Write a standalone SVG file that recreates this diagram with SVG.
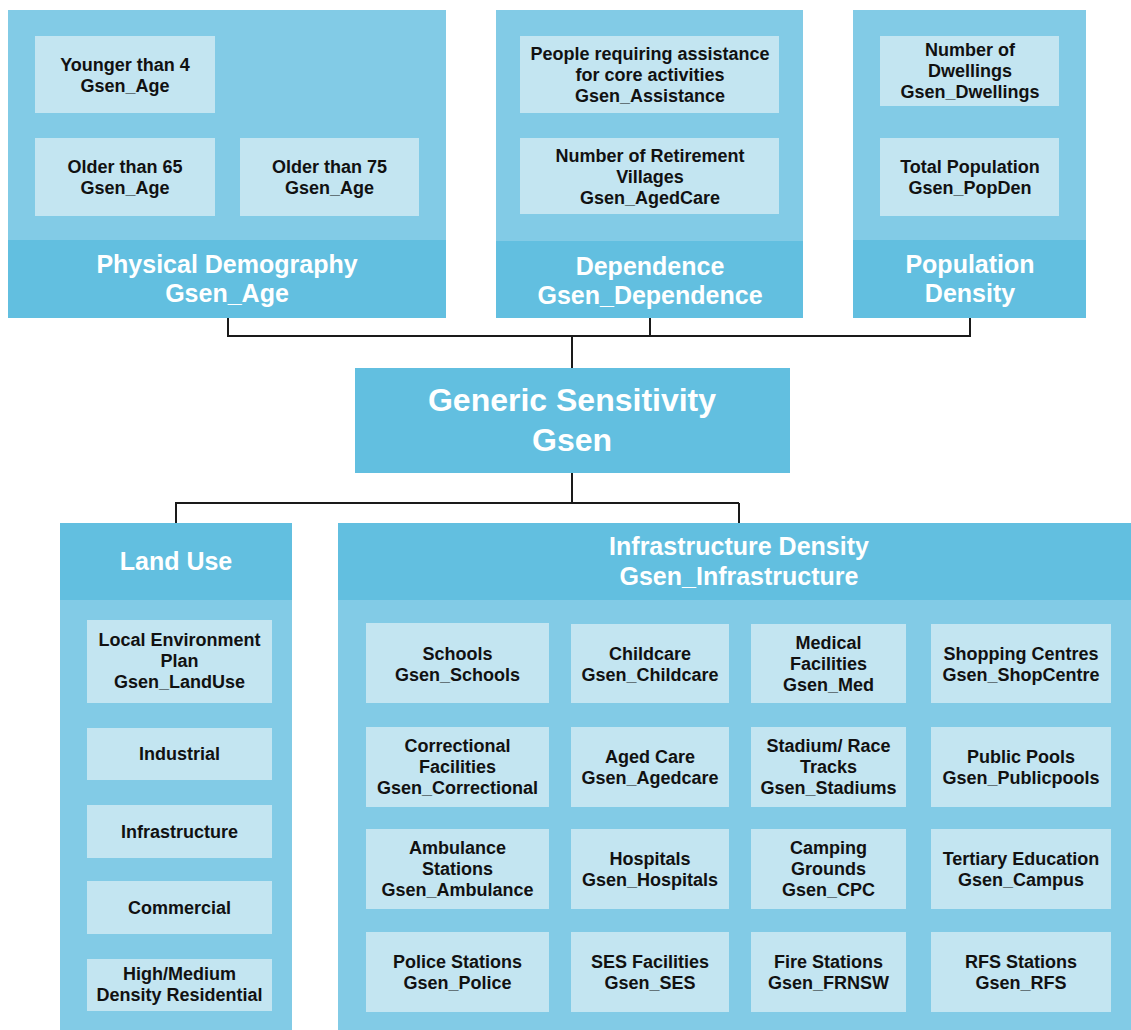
<svg xmlns="http://www.w3.org/2000/svg" width="1131" height="1030" viewBox="0 0 1131 1030">
<style>
.panel{fill:#82CBE6}
.head{fill:#62BFE0}
.inner{fill:#C3E5F1}
text{font-family:"Liberation Sans",Arial,sans-serif;font-weight:bold;text-anchor:middle}
.ht{fill:#ffffff;font-size:25px}
.it{fill:#111111;font-size:18px}
.big{fill:#ffffff;font-size:32px}
.conn{fill:none;stroke:#1a1a1a;stroke-width:2}
</style>
<rect width="1131" height="1030" fill="#ffffff"/>

<g id="physical-demography">
<rect class="panel" x="8" y="10" width="438" height="308"/>
<rect class="head" x="8" y="240" width="438" height="78"/>
<text class="ht" x="227" y="273">Physical Demography</text>
<text class="ht" x="227" y="302">Gsen_Age</text>
</g>
<g id="younger-than-4">
<rect class="inner" x="35" y="36" width="180" height="77"/>
<text class="it" x="125" y="71">Younger than 4</text>
<text class="it" x="125" y="92">Gsen_Age</text>
</g>
<g id="older-than-65">
<rect class="inner" x="35" y="138" width="180" height="78"/>
<text class="it" x="125" y="173">Older than 65</text>
<text class="it" x="125" y="194">Gsen_Age</text>
</g>
<g id="older-than-75">
<rect class="inner" x="240" y="138" width="179" height="78"/>
<text class="it" x="329.5" y="173">Older than 75</text>
<text class="it" x="329.5" y="194">Gsen_Age</text>
</g>

<g id="dependence">
<rect class="panel" x="496" y="10" width="307" height="308"/>
<rect class="head" x="496" y="241" width="307" height="77"/>
<text class="ht" x="650" y="275">Dependence</text>
<text class="ht" x="650" y="304">Gsen_Dependence</text>
</g>
<g id="assistance">
<rect class="inner" x="520" y="36" width="259" height="77"/>
<text class="it" x="650" y="60">People requiring assistance</text>
<text class="it" x="650" y="81">for core activities</text>
<text class="it" x="650" y="102">Gsen_Assistance</text>
</g>
<g id="retirement-villages">
<rect class="inner" x="520" y="138" width="259" height="76"/>
<text class="it" x="650" y="162">Number of Retirement</text>
<text class="it" x="650" y="183">Villages</text>
<text class="it" x="650" y="204">Gsen_AgedCare</text>
</g>

<g id="population-density">
<rect class="panel" x="853" y="10" width="233" height="308"/>
<rect class="head" x="853" y="240" width="233" height="78"/>
<text class="ht" x="970" y="273">Population</text>
<text class="ht" x="970" y="302">Density</text>
</g>
<g id="dwellings">
<rect class="inner" x="880" y="36" width="179" height="70"/>
<text class="it" x="970" y="56">Number of</text>
<text class="it" x="970" y="77">Dwellings</text>
<text class="it" x="970" y="98">Gsen_Dwellings</text>
</g>
<g id="total-population">
<rect class="inner" x="880" y="138" width="179" height="78"/>
<text class="it" x="970" y="173">Total Population</text>
<text class="it" x="970" y="194">Gsen_PopDen</text>
</g>

<g id="connectors">
<path class="conn" d="M228 318V336H970V318M650 318V336M572 336V368"/>
<path class="conn" d="M572 473V503H176V523M739 503V523M572 503H739"/>
</g>

<g id="generic-sensitivity">
<rect class="head" x="355" y="368" width="435" height="105"/>
<text class="big" x="572" y="411">Generic Sensitivity</text>
<text class="big" x="572" y="451">Gsen</text>
</g>

<g id="land-use">
<rect class="panel" x="60" y="523" width="232" height="507"/>
<rect class="head" x="60" y="523" width="232" height="77"/>
<text class="ht" x="176" y="570">Land Use</text>
</g>
<g id="local-environment-plan">
<rect class="inner" x="87" y="620" width="185" height="83"/>
<text class="it" x="179.5" y="646">Local Environment</text>
<text class="it" x="179.5" y="667">Plan</text>
<text class="it" x="179.5" y="688">Gsen_LandUse</text>
</g>
<g id="industrial">
<rect class="inner" x="87" y="728" width="185" height="52"/>
<text class="it" x="179.5" y="760">Industrial</text>
</g>
<g id="infrastructure-lu">
<rect class="inner" x="87" y="805" width="185" height="53"/>
<text class="it" x="179.5" y="838">Infrastructure</text>
</g>
<g id="commercial">
<rect class="inner" x="87" y="881" width="185" height="53"/>
<text class="it" x="179.5" y="914">Commercial</text>
</g>
<g id="high-medium-density">
<rect class="inner" x="87" y="959" width="185" height="52"/>
<text class="it" x="179.5" y="980">High/Medium</text>
<text class="it" x="179.5" y="1001">Density Residential</text>
</g>

<g id="infrastructure-density">
<rect class="panel" x="338" y="523" width="793" height="507"/>
<rect class="head" x="338" y="523" width="793" height="77"/>
<text class="ht" x="739" y="555">Infrastructure Density</text>
<text class="ht" x="739" y="585">Gsen_Infrastructure</text>
</g>

<g id="schools"><rect class="inner" x="366" y="623" width="183" height="80"/>
<text class="it" x="457.5" y="660">Schools</text><text class="it" x="457.5" y="681">Gsen_Schools</text></g>
<g id="childcare"><rect class="inner" x="571" y="624" width="158" height="79"/>
<text class="it" x="650" y="660">Childcare</text><text class="it" x="650" y="681">Gsen_Childcare</text></g>
<g id="medical"><rect class="inner" x="751" y="624" width="155" height="79"/>
<text class="it" x="828.5" y="649">Medical</text><text class="it" x="828.5" y="670">Facilities</text><text class="it" x="828.5" y="691">Gsen_Med</text></g>
<g id="shopping"><rect class="inner" x="931" y="624" width="180" height="79"/>
<text class="it" x="1021" y="660">Shopping Centres</text><text class="it" x="1021" y="681">Gsen_ShopCentre</text></g>

<g id="correctional"><rect class="inner" x="366" y="727" width="183" height="80"/>
<text class="it" x="457.5" y="752">Correctional</text><text class="it" x="457.5" y="773">Facilities</text><text class="it" x="457.5" y="794">Gsen_Correctional</text></g>
<g id="aged-care"><rect class="inner" x="571" y="727" width="158" height="80"/>
<text class="it" x="650" y="763">Aged Care</text><text class="it" x="650" y="784">Gsen_Agedcare</text></g>
<g id="stadiums"><rect class="inner" x="751" y="727" width="155" height="80"/>
<text class="it" x="828.5" y="752">Stadium/ Race</text><text class="it" x="828.5" y="773">Tracks</text><text class="it" x="828.5" y="794">Gsen_Stadiums</text></g>
<g id="public-pools"><rect class="inner" x="931" y="727" width="180" height="80"/>
<text class="it" x="1021" y="763">Public Pools</text><text class="it" x="1021" y="784">Gsen_Publicpools</text></g>

<g id="ambulance"><rect class="inner" x="366" y="829" width="183" height="80"/>
<text class="it" x="457.5" y="854">Ambulance</text><text class="it" x="457.5" y="875">Stations</text><text class="it" x="457.5" y="896">Gsen_Ambulance</text></g>
<g id="hospitals"><rect class="inner" x="571" y="829" width="158" height="80"/>
<text class="it" x="650" y="865">Hospitals</text><text class="it" x="650" y="886">Gsen_Hospitals</text></g>
<g id="camping"><rect class="inner" x="751" y="829" width="155" height="80"/>
<text class="it" x="828.5" y="854">Camping</text><text class="it" x="828.5" y="875">Grounds</text><text class="it" x="828.5" y="896">Gsen_CPC</text></g>
<g id="tertiary"><rect class="inner" x="931" y="829" width="180" height="80"/>
<text class="it" x="1021" y="865">Tertiary Education</text><text class="it" x="1021" y="886">Gsen_Campus</text></g>

<g id="police"><rect class="inner" x="366" y="932" width="183" height="80"/>
<text class="it" x="457.5" y="968">Police Stations</text><text class="it" x="457.5" y="989">Gsen_Police</text></g>
<g id="ses"><rect class="inner" x="571" y="932" width="158" height="80"/>
<text class="it" x="650" y="968">SES Facilities</text><text class="it" x="650" y="989">Gsen_SES</text></g>
<g id="fire"><rect class="inner" x="751" y="932" width="155" height="80"/>
<text class="it" x="828.5" y="968">Fire Stations</text><text class="it" x="828.5" y="989">Gsen_FRNSW</text></g>
<g id="rfs"><rect class="inner" x="931" y="932" width="180" height="80"/>
<text class="it" x="1021" y="968">RFS Stations</text><text class="it" x="1021" y="989">Gsen_RFS</text></g>
</svg>
